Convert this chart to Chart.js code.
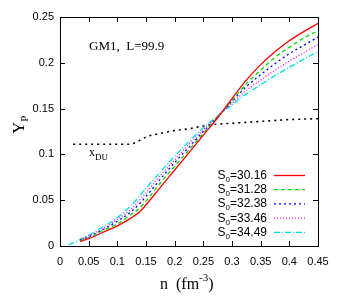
<!DOCTYPE html>
<html>
<head>
<meta charset="utf-8">
<script src="https://cdn.jsdelivr.net/npm/chart.js@4"></script>
<style>
  html, body { margin: 0; padding: 0; background: #fff; }
  #wrap { width: 338px; height: 305px; }
</style>
</head>
<body>
<div id="wrap"><canvas id="chart" width="338" height="305"></canvas></div>
<script>
// Data
const seriesLabels = ['30.16', '31.28', '32.38', '33.46', '34.49'];
const seriesColors = ['#ff0000', '#00dd00', '#0000ff', '#ff00ff', '#00e0e0'];
const seriesDashes = [[], [4, 3], [2, 3], [1, 2], [6, 2, 1, 2]];

const nMain = [0.035, 0.05, 0.075, 0.1, 0.125, 0.14, 0.15, 0.175, 0.2, 0.225, 0.25, 0.275, 0.3, 0.325, 0.35, 0.375, 0.4, 0.425, 0.45];
const nCyan = [0.015, 0.025, 0.05, 0.075, 0.1, 0.125, 0.15, 0.175, 0.2, 0.225, 0.25, 0.275, 0.3, 0.325, 0.35, 0.375, 0.4, 0.425, 0.45];

const yp3016 = [0.005, 0.008, 0.015, 0.022, 0.031, 0.038, 0.045, 0.064, 0.083, 0.102, 0.121, 0.140, 0.161, 0.181, 0.198, 0.212, 0.224, 0.234, 0.243];
const yp3128 = [0.006, 0.009, 0.017, 0.024, 0.035, 0.042, 0.049, 0.069, 0.087, 0.105, 0.123, 0.141, 0.159, 0.177, 0.192, 0.206, 0.217, 0.227, 0.235];
const yp3238 = [0.0065, 0.010, 0.018, 0.027, 0.038, 0.047, 0.054, 0.073, 0.091, 0.108, 0.125, 0.141, 0.158, 0.174, 0.187, 0.199, 0.210, 0.219, 0.228];
const yp3346 = [0.007, 0.011, 0.019, 0.029, 0.041, 0.051, 0.058, 0.077, 0.094, 0.111, 0.127, 0.142, 0.156, 0.170, 0.181, 0.192, 0.202, 0.211, 0.220];
const yp3449 = [0.0015, 0.004, 0.012, 0.021, 0.031, 0.045, 0.063, 0.081, 0.098, 0.114, 0.129, 0.142, 0.154, 0.166, 0.176, 0.186, 0.195, 0.204, 0.212];

const nDU = [0.023, 0.05, 0.075, 0.1, 0.12, 0.135, 0.15, 0.175, 0.2, 0.225, 0.25, 0.275, 0.3, 0.35, 0.4, 0.45];
const xDU = [0.111, 0.111, 0.111, 0.111, 0.111, 0.114, 0.119, 0.123, 0.126, 0.128, 0.131, 0.133, 0.134, 0.136, 0.138, 0.139];

const xTicks = [0, 0.05, 0.1, 0.15, 0.2, 0.25, 0.3, 0.35, 0.4, 0.45];
const yTicks = [0, 0.05, 0.1, 0.15, 0.2, 0.25];

function pts(xs, ys) {
    return xs.map((x, i) => ({ x: x, y: ys[i] }));
}

const seriesData = [
    pts(nMain, yp3016),
    pts(nMain, yp3128),
    pts(nMain, yp3238),
    pts(nMain, yp3346),
    pts(nCyan, yp3449)
];

const datasets = seriesData.map((d, i) => ({
    label: 'S0=' + seriesLabels[i],
    data: d,
    borderColor: seriesColors[i],
    borderDash: seriesDashes[i],
    borderWidth: 1.3,
    pointRadius: 0,
    cubicInterpolationMode: 'monotone',
    fill: false
}));

datasets.push({
    label: 'xDU',
    data: pts(nDU, xDU),
    borderColor: '#000',
    borderDash: [2, 4],
    borderWidth: 1.6,
    pointRadius: 0,
    cubicInterpolationMode: 'monotone',
    fill: false
});

function fmt(v) {
    return String(parseFloat(v.toFixed(2)));
}

// frame, inward ticks, titles, labels and legend
const decorPlugin = {
    id: 'decor',
    afterDatasetsDraw(chart) {
        const ctx = chart.ctx;
        const a = chart.chartArea;
        const xs = chart.scales.x;
        const ys = chart.scales.y;
        ctx.save();

        // ticks
        ctx.strokeStyle = '#000';
        ctx.lineWidth = 1;
        ctx.beginPath();
        xTicks.forEach(v => {
            const px = Math.round(xs.getPixelForValue(v)) + 0.5;
            ctx.moveTo(px, a.bottom); ctx.lineTo(px, a.bottom - 5);
            ctx.moveTo(px, a.top); ctx.lineTo(px, a.top + 5);
        });
        yTicks.forEach(v => {
            const py = Math.round(ys.getPixelForValue(v)) + 0.5;
            ctx.moveTo(a.left, py); ctx.lineTo(a.left + 5, py);
            ctx.moveTo(a.right, py); ctx.lineTo(a.right - 5, py);
        });
        ctx.stroke();

        // frame
        ctx.strokeRect(Math.round(a.left) + 0.5, Math.round(a.top) + 0.5,
            Math.round(a.right - a.left), Math.round(a.bottom - a.top));

        // annotation
        ctx.fillStyle = '#000';
        ctx.textBaseline = 'alphabetic';
        ctx.textAlign = 'left';
        ctx.font = '13px "Liberation Serif", "DejaVu Serif", serif';
        ctx.fillText('GM1,  L=99.9', a.left + 29, a.top + 33);

        // x_DU label
        ctx.font = '12px "Liberation Serif", serif';
        ctx.fillText('x', a.left + 29, a.top + 139);
        ctx.font = '9px "Liberation Serif", serif';
        ctx.fillText('DU', a.left + 35, a.top + 143);

        // x title
        ctx.font = '16px "Liberation Serif", serif';
        ctx.fillText('n  (fm', a.left + 100, a.bottom + 43);
        const w = ctx.measureText('n  (fm').width;
        ctx.font = '11px "Liberation Serif", serif';
        ctx.fillText('-3', a.left + 100 + w, a.bottom + 35);
        const w2 = ctx.measureText('-3').width;
        ctx.font = '16px "Liberation Serif", serif';
        ctx.fillText(')', a.left + 100 + w + w2, a.bottom + 43);

        // y title
        ctx.save();
        ctx.translate(24, a.top + 117);
        ctx.rotate(-Math.PI / 2);
        ctx.font = '17px "Liberation Serif", serif';
        ctx.fillText('Y', 0, 0);
        const yw = ctx.measureText('Y').width;
        ctx.font = '11px "Liberation Serif", serif';
        ctx.fillText('P', yw, 4);
        ctx.restore();

        // legend
        const textRight = a.right - 51;
        const lineL = a.right - 44;
        const lineR = a.right - 13;
        seriesLabels.forEach((lab, i) => {
            const y = a.top + 158 + i * 14.2;
            ctx.font = '12px "Liberation Sans", Arial, sans-serif';
            const rest = '=' + lab;
            const wRest = ctx.measureText(rest).width;
            const wS = ctx.measureText('S').width;
            ctx.font = '8px "Liberation Sans", Arial, sans-serif';
            const w0 = ctx.measureText('0').width;
            let x = textRight - wRest - w0 - wS;
            ctx.textAlign = 'left';
            ctx.font = '12px "Liberation Sans", Arial, sans-serif';
            ctx.fillText('S', x, y + 4);
            ctx.font = '8px "Liberation Sans", Arial, sans-serif';
            ctx.fillText('0', x + wS, y + 7);
            ctx.font = '12px "Liberation Sans", Arial, sans-serif';
            ctx.fillText(rest, x + wS + w0, y + 4);

            ctx.strokeStyle = seriesColors[i];
            ctx.lineWidth = 1.3;
            ctx.setLineDash(seriesDashes[i]);
            ctx.beginPath();
            ctx.moveTo(lineL, y + 0.5);
            ctx.lineTo(lineR, y + 0.5);
            ctx.stroke();
            ctx.setLineDash([]);
        });

        ctx.restore();
    }
};

new Chart(document.getElementById('chart').getContext('2d'), {
    type: 'line',
    data: { datasets: datasets },
    options: {
        responsive: false,
        animation: false,
        layout: { padding: { top: 17, right: 20, left: 0, bottom: 0 } },
        plugins: {
            legend: { display: false },
            tooltip: { enabled: false }
        },
        scales: {
            x: {
                type: 'linear',
                min: 0,
                max: 0.45,
                afterFit: s => { s.height = 59; },
                afterBuildTicks: s => { s.ticks = xTicks.map(v => ({ value: v })); },
                grid: { display: false, drawTicks: false },
                border: { display: false },
                ticks: {
                    padding: 9,
                    color: '#000',
                    font: { family: '"Liberation Sans", Arial, sans-serif', size: 11 },
                    maxRotation: 0,
                    autoSkip: false,
                    callback: v => fmt(v)
                }
            },
            y: {
                type: 'linear',
                min: 0,
                max: 0.25,
                afterFit: s => { s.width = 60; },
                afterBuildTicks: s => { s.ticks = yTicks.map(v => ({ value: v })); },
                grid: { display: false, drawTicks: false },
                border: { display: false },
                ticks: {
                    padding: 6,
                    color: '#000',
                    font: { family: '"Liberation Sans", Arial, sans-serif', size: 11 },
                    callback: v => fmt(v)
                }
            }
        }
    },
    plugins: [decorPlugin]
});
</script>
</body>
</html>
